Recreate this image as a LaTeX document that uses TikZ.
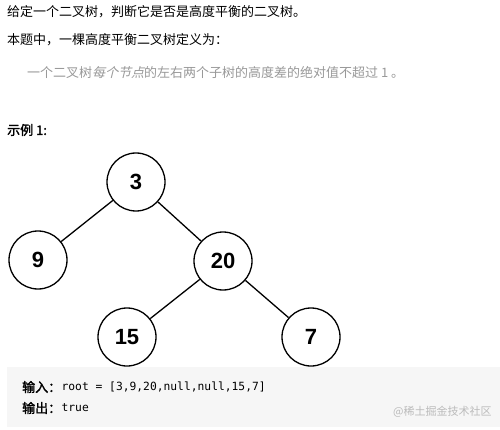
\documentclass[tikz,border=0pt]{standalone}
\usepackage{fontspec}
\setmainfont{Liberation Sans}
\setmonofont{DejaVu Sans Mono}
\newfontfamily\cjk[AutoFakeBold=2]{Noto Sans CJK SC}
\newfontfamily\cjkslant[FakeSlant=0.25]{Noto Sans CJK SC}
\definecolor{quotegray}{HTML}{999999}
\definecolor{codebg}{HTML}{F6F6F6}
\definecolor{wmgray}{HTML}{BBBBBB}
\tikzset{
  treenode/.style={circle,draw=black,line width=1.3pt,minimum size=58pt,inner sep=0pt,font=\fontsize{22}{22}\selectfont\bfseries},
  edge/.style={line width=1.3pt,black},
  txt/.style={anchor=west,inner sep=0pt,font=\cjk\fontsize{13}{15}\selectfont}
}
\begin{document}
\begin{tikzpicture}[x=1pt,y=1pt]
\useasboundingbox (0,0) rectangle (500,-430);
\fill[white] (0,0) rectangle (500,-430);
\node[txt] (l1) at (7,-12) {给定一个二叉树，判断它是否是高度平衡的二叉树。};
\node[txt] (l2) at (7,-40) {本题中，一棵高度平衡二叉树定义为：};
\node[txt,text=quotegray] (l3) at (27,-72) {一个二叉树{\cjkslant 每个节点}的左右两个子树的高度差的绝对值不超过 1 。};
\node[txt,font=\cjk\bfseries\fontsize{13}{15}\selectfont] (l4) at (7,-130) {示例 1:};
\node[treenode] (n3) at (136,-182) {3};
\node[treenode] (n9) at (38,-260) {9};
\node[treenode] (n20) at (223,-261) {20};
\node[treenode] (n15) at (127,-337) {15};
\node[treenode] (n7) at (311,-337) {7};
\draw[edge] (n3) -- (n9);
\draw[edge] (n3) -- (n20);
\draw[edge] (n20) -- (n15);
\draw[edge] (n20) -- (n7);
\fill[codebg] (7,-367) rectangle (500,-427);
\node[txt,font=\cjk\bfseries\fontsize{13}{15}\selectfont] (in) at (22,-387) {输入：};
\node[anchor=west,inner sep=0pt,font=\ttfamily\fontsize{11.3}{13}\selectfont] (inv) at (in.east) {root = [3,9,20,null,null,15,7]};
\node[txt,font=\cjk\bfseries\fontsize{13}{15}\selectfont] (out) at (22,-408) {输出：};
\node[anchor=west,inner sep=0pt,font=\ttfamily\fontsize{11.3}{13}\selectfont] (outv) at (out.east) {true};
\node[txt,text=wmgray,font=\cjk\fontsize{11}{13}\selectfont] (wm) at (393,-412) {@稀土掘金技术社区};
\end{tikzpicture}
\end{document}
